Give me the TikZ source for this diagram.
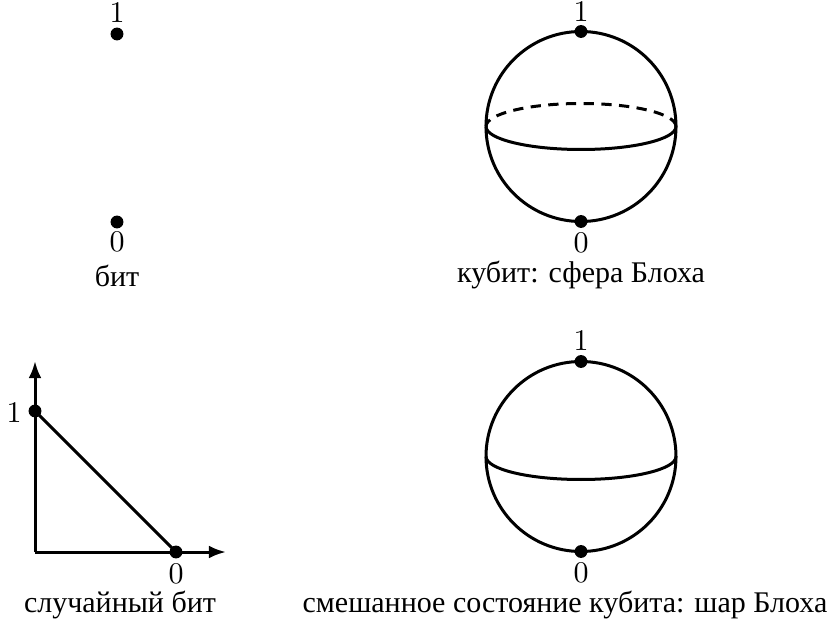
\documentclass[tikz,border=0pt]{standalone}
\usepackage{fontspec}
\newfontfamily\cyr{Liberation Serif}
\usetikzlibrary{arrows.meta}
\tikzset{
  pt/.style={circle,fill=black,inner sep=0pt,minimum size=4.5pt},
  lbl/.style={inner sep=0pt,font=\fontsize{10.5}{12}\selectfont},
  caption/.style={inner sep=0pt,font=\fontsize{10.5}{12}\selectfont\cyr},
  curve/.style={line width=1.05pt},
  axis/.style={line width=1.05pt,-{Latex[length=6pt,width=4.5pt]}}
}
\begin{document}
\begin{tikzpicture}[x=0.35pt,y=0.35pt]
\useasboundingbox (0,0) rectangle (830,623);

% classical bit: two points
\node[pt] (b1) at (117,589) {};
\node[pt] (b0) at (117,401) {};
\node[lbl] (b1l) at (117,610) {1};
\node[lbl] (b0l) at (117,381) {0};
\node[caption] (bcap) at (117,347) {бит};

% qubit: Bloch sphere
\coordinate (qc) at (581,496.5);
\draw[curve] (qc) circle (95);
\draw[curve,dash pattern=on 3.6pt off 2.6pt] (qc) ++(95,0) arc[start angle=0,end angle=180,x radius=95,y radius=23];
\draw[curve] (qc) ++(-95,0) arc[start angle=180,end angle=360,x radius=95,y radius=23];
\node[pt] (q1) at (581,591.5) {};
\node[pt] (q0) at (581,401.5) {};
\node[lbl] (q1l) at (581,611) {1};
\node[lbl] (q0l) at (581,380) {0};
\node[caption] (qcap) at (581,348) {кубит: сфера Блоха};

% random bit: probability simplex
\coordinate (o) at (35,71);
\coordinate (ytip) at (35,262);
\coordinate (xtip) at (226,71);
\draw[axis] (o) -- (ytip);
\draw[axis] (o) -- (xtip);
\node[pt] (r1) at (35,212) {};
\node[pt] (r0) at (176,71) {};
\draw[curve] (r1.center) -- (r0.center);
\node[lbl] (r1l) at (14,210) {1};
\node[lbl] (r0l) at (176,49) {0};
\node[caption] (rcap) at (120,18) {случайный бит};

% mixed qubit state: Bloch ball
\coordinate (mc) at (581,166.5);
\draw[curve] (mc) circle (95);
\draw[curve] (mc) ++(-95,0) arc[start angle=180,end angle=360,x radius=95,y radius=23];
\node[pt] (m1) at (581,261.5) {};
\node[pt] (m0) at (581,71.5) {};
\node[lbl] (m1l) at (581,282) {1};
\node[lbl] (m0l) at (581,50) {0};
\node[caption] (mcap) at (565,18) {смешанное состояние кубита: шар Блоха};
\end{tikzpicture}
\end{document}
